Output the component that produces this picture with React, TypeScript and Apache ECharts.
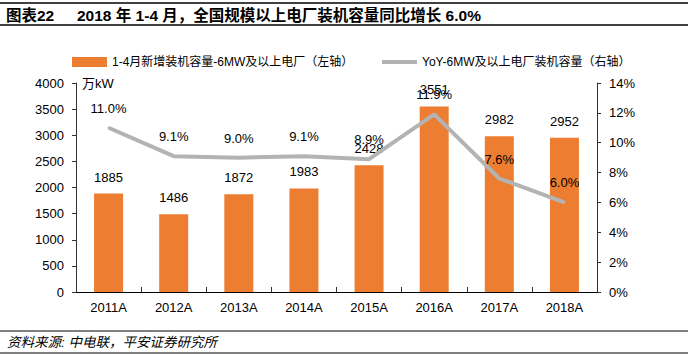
import React, { useEffect, useRef } from "react";
import * as echarts from "echarts";

const categories = ["2011A", "2012A", "2013A", "2014A", "2015A", "2016A", "2017A", "2018A"];
const newCapacity = [1885, 1486, 1872, 1983, 2428, 3551, 2982, 2952];
const yoyGrowth = [11.0, 9.1, 9.0, 9.1, 8.9, 11.9, 7.6, 6.0];
const leftTicks = { min: 0, max: 4000, interval: 500 };
const rightTicks = { min: 0, max: 14, interval: 2 };

const barName = "1-4月新增装机容量-6MW及以上电厂（左轴）";
const lineName = "YoY-6MW及以上电厂装机容量（右轴）";
const unitText = "万kW";
const titleTag = "图表22";
const titleText = "2018 年 1-4 月，全国规模以上电厂装机容量同比增长 6.0%";
const sourceText = "资料来源: 中电联，平安证券研究所";

const FONT = "Liberation Sans, Arial, Noto Sans CJK SC, sans-serif";
const ORANGE = "#ED7D31";
const GREY = "#B3B3B3";

export default function App() {
  const ref = useRef<HTMLDivElement>(null);
  useEffect(() => {
    if (!ref.current) return;
    const chart = echarts.init(ref.current, undefined, { renderer: "svg" });
    chart.setOption({
      animation: false,
      backgroundColor: "#ffffff",
      textStyle: { fontFamily: FONT },
      grid: { left: 76, right: 100, top: 83, bottom: 62 },
      legend: [
        {
          left: 67,
          top: 51,
          itemWidth: 35,
          itemHeight: 10,
          textStyle: { fontSize: 12, color: "#000", fontFamily: FONT },
          data: [{ name: barName, icon: "rect" }],
        },
        {
          left: 377,
          top: 51,
          itemWidth: 35,
          itemHeight: 4,
          textStyle: { fontSize: 12, color: "#000", fontFamily: FONT },
          data: [{ name: lineName, icon: "rect", itemStyle: { color: GREY, opacity: 1 } }],
        },
      ],
      xAxis: {
        type: "category",
        data: categories,
        axisLine: { lineStyle: { color: "#000", width: 1 } },
        axisTick: { show: true, inside: true, length: 5, lineStyle: { color: "#333" } },
        axisLabel: { color: "#000", fontSize: 13, margin: 9, fontFamily: FONT },
      },
      yAxis: [
        {
          type: "value",
          ...leftTicks,
          axisLine: { show: true, lineStyle: { color: "#333" } },
          axisTick: { show: true, length: 4, lineStyle: { color: "#333" } },
          splitLine: { show: false },
          axisLabel: {
            color: "#000",
            fontSize: 13,
            margin: 12,
            fontFamily: FONT,
            formatter: (v: number) => String(v),
          },
        },
        {
          type: "value",
          ...rightTicks,
          position: "right",
          axisLine: { show: true, lineStyle: { color: "#333" } },
          axisTick: { show: true, length: 4, lineStyle: { color: "#333" } },
          splitLine: { show: false },
          axisLabel: { color: "#000", fontSize: 13, margin: 12, formatter: "{value}%", fontFamily: FONT },
        },
      ],
      series: [
        {
          name: barName,
          type: "bar",
          data: newCapacity,
          barWidth: 29,
          itemStyle: { color: ORANGE },
          label: { show: true, position: "top", distance: 10, color: "#000", fontSize: 13, fontFamily: FONT },
          z: 2,
        },
        {
          name: lineName,
          type: "line",
          yAxisIndex: 1,
          data: yoyGrowth,
          symbol: "circle",
          symbolSize: 2,
          showSymbol: true,
          lineStyle: { color: GREY, width: 4 },
          itemStyle: { color: GREY },
          label: {
            show: true,
            position: "top",
            distance: 12,
            color: "#000",
            fontSize: 13,
            fontFamily: FONT,
            formatter: (p: any) => Number(p.value).toFixed(1) + "%",
          },
          labelLayout: { hideOverlap: false },
          z: 3,
        },
      ],
      graphic: [
        { type: "line", shape: { x1: 0, y1: 3, x2: 688, y2: 3 }, style: { stroke: "#000", lineWidth: 1.7 } },
        { type: "line", shape: { x1: 0, y1: 25, x2: 688, y2: 25 }, style: { stroke: "#000", lineWidth: 1.5 } },
        {
          type: "text",
          x: 6,
          y: 15,
          style: {
            text: titleTag,
            fontSize: 15.5,
            fontWeight: "bold",
            fill: "#000",
            fontFamily: FONT,
            verticalAlign: "middle",
          },
        },
        {
          type: "text",
          x: 77,
          y: 15,
          style: {
            text: titleText,
            fontSize: 15.5,
            fontWeight: "bold",
            fill: "#000",
            fontFamily: FONT,
            verticalAlign: "middle",
          },
        },
        {
          type: "text",
          x: 82,
          y: 83,
          style: { text: unitText, fontSize: 13, fill: "#000", fontFamily: FONT, verticalAlign: "middle" },
        },
        { type: "line", shape: { x1: 0, y1: 331, x2: 688, y2: 331 }, style: { stroke: "#000", lineWidth: 1 } },
        {
          type: "text",
          x: 7,
          y: 342,
          style: {
            text: sourceText,
            fontSize: 13.5,
            fontStyle: "italic",
            fill: "#000",
            fontFamily: FONT,
            verticalAlign: "middle",
          },
        },
        { type: "line", shape: { x1: 0, y1: 353, x2: 688, y2: 353 }, style: { stroke: "#000", lineWidth: 1 } },
      ],
    });
    return () => chart.dispose();
  }, []);
  return <div ref={ref} style={{ width: 697, height: 354, position: "absolute", left: 0, top: 0 }} />;
}
